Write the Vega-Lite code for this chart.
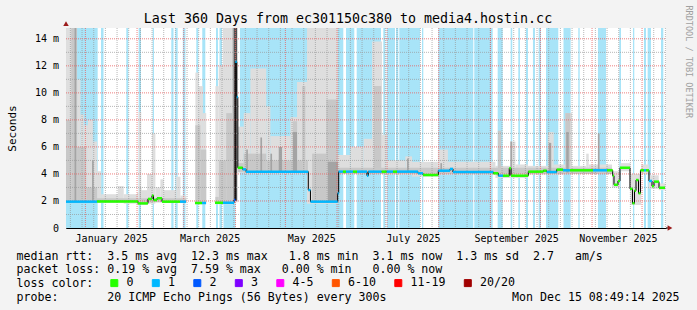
{
  "$schema": "https://vega.github.io/schema/vega-lite/v6.json",
  "width": 600,
  "height": 200,
  "autosize": "none",
  "padding": {"left": 66, "top": 28, "right": 31, "bottom": 82},
  "background": "#f3f3f3",
  "title": {"text": "Last 360 Days from ec301150c380 to media4.hostin.cc", "font": "DejaVu Sans Mono", "fontSize": 13.3, "fontWeight": "normal", "color": "#000000", "anchor": "middle", "frame": "group", "dx": -18, "offset": -31.5, "baseline": "alphabetic"},
  "datasets": {
    "bands": [
      {"t0": "2024-12-20T08:49", "t1": "2025-01-08T09:00"},
      {"t0": "2025-01-10T09:00", "t1": "2025-01-11T21:00"},
      {"t0": "2025-01-25T13:00", "t1": "2025-01-26T18:00"},
      {"t0": "2025-02-01T23:00", "t1": "2025-02-03T09:00"},
      {"t0": "2025-02-10T09:00", "t1": "2025-02-11T04:00"},
      {"t0": "2025-02-21T13:00", "t1": "2025-02-22T21:00"},
      {"t0": "2025-02-23T23:00", "t1": "2025-02-25T09:00"},
      {"t0": "2025-02-28T11:00", "t1": "2025-03-02T01:00"},
      {"t0": "2025-03-08T13:00", "t1": "2025-03-09T18:00"},
      {"t0": "2025-03-12T03:00", "t1": "2025-03-13T23:00"},
      {"t0": "2025-03-20T09:00", "t1": "2025-03-21T13:00"},
      {"t0": "2025-03-22T11:00", "t1": "2025-03-23T23:00"},
      {"t0": "2025-03-24T21:00", "t1": "2025-04-01T01:00"},
      {"t0": "2025-04-03T18:00", "t1": "2025-06-04T18:00"},
      {"t0": "2025-06-06T09:00", "t1": "2025-06-11T08:00"},
      {"t0": "2025-06-12T19:00", "t1": "2025-06-27T09:00"},
      {"t0": "2025-06-28T18:00", "t1": "2025-06-29T23:00"},
      {"t0": "2025-06-30T19:00", "t1": "2025-07-05T18:00"},
      {"t0": "2025-07-06T09:00", "t1": "2025-07-07T18:00"},
      {"t0": "2025-07-08T08:00", "t1": "2025-07-20T18:00"},
      {"t0": "2025-07-21T23:00", "t1": "2025-07-22T18:00"},
      {"t0": "2025-07-31T18:00", "t1": "2025-08-21T18:00"},
      {"t0": "2025-08-22T08:00", "t1": "2025-09-02T09:00"},
      {"t0": "2025-09-05T09:00", "t1": "2025-09-08T09:00"},
      {"t0": "2025-09-13T04:00", "t1": "2025-09-14T03:00"},
      {"t0": "2025-09-17T18:00", "t1": "2025-09-18T18:00"},
      {"t0": "2025-09-22T09:00", "t1": "2025-09-23T13:00"},
      {"t0": "2025-09-26T13:00", "t1": "2025-09-27T18:00"},
      {"t0": "2025-09-29T23:00", "t1": "2025-10-01T09:00"},
      {"t0": "2025-10-04T09:00", "t1": "2025-10-11T18:00"},
      {"t0": "2025-10-14T21:00", "t1": "2025-10-19T04:00"},
      {"t0": "2025-10-23T18:00", "t1": "2025-10-24T14:00"},
      {"t0": "2025-11-04T13:00", "t1": "2025-11-09T09:00"},
      {"t0": "2025-11-17T08:00", "t1": "2025-11-18T09:00"},
      {"t0": "2025-11-25T13:00", "t1": "2025-11-26T08:00"},
      {"t0": "2025-12-02T04:00", "t1": "2025-12-03T09:00"},
      {"t0": "2025-12-04T09:00", "t1": "2025-12-06T09:00"},
      {"t0": "2025-12-12T09:00", "t1": "2025-12-13T18:00"}
    ],
    "smoke": [
      {"t0": "2024-12-20T08:49", "t1": "2024-12-27T00:00", "lo": 1.85, "hi": 14.8, "b": "l"},
      {"t0": "2024-12-27T00:00", "t1": "2024-12-29T00:00", "lo": 1.85, "hi": 11.0, "b": "l"},
      {"t0": "2024-12-29T00:00", "t1": "2024-12-31T00:00", "lo": 1.85, "hi": 8.4, "b": "l"},
      {"t0": "2024-12-31T00:00", "t1": "2025-01-02T12:00", "lo": 1.85, "hi": 7.6, "b": "l"},
      {"t0": "2025-01-02T12:00", "t1": "2025-01-05T12:00", "lo": 1.85, "hi": 8.0, "b": "l"},
      {"t0": "2025-01-05T12:00", "t1": "2025-01-08T00:00", "lo": 1.85, "hi": 6.4, "b": "l"},
      {"t0": "2025-01-08T00:00", "t1": "2025-01-10T12:00", "lo": 1.85, "hi": 4.2, "b": "l"},
      {"t0": "2025-01-10T12:00", "t1": "2025-01-20T12:00", "lo": 1.85, "hi": 2.5, "b": "l"},
      {"t0": "2025-01-20T12:00", "t1": "2025-01-24T00:00", "lo": 1.85, "hi": 3.1, "b": "l"},
      {"t0": "2025-01-24T00:00", "t1": "2025-02-01T00:00", "lo": 1.8, "hi": 2.5, "b": "l"},
      {"t0": "2025-02-01T00:00", "t1": "2025-02-02T00:00", "lo": 1.7, "hi": 2.6, "b": "l"},
      {"t0": "2025-02-02T00:00", "t1": "2025-02-03T12:00", "lo": 1.7, "hi": 8.6, "b": "l"},
      {"t0": "2025-02-03T12:00", "t1": "2025-02-07T00:00", "lo": 1.7, "hi": 2.8, "b": "l"},
      {"t0": "2025-02-07T00:00", "t1": "2025-02-10T00:00", "lo": 1.8, "hi": 4.0, "b": "l"},
      {"t0": "2025-02-10T00:00", "t1": "2025-02-12T00:00", "lo": 1.8, "hi": 7.0, "b": "l"},
      {"t0": "2025-02-12T00:00", "t1": "2025-02-15T00:00", "lo": 1.9, "hi": 3.0, "b": "l"},
      {"t0": "2025-02-15T00:00", "t1": "2025-02-17T00:00", "lo": 1.9, "hi": 3.6, "b": "l"},
      {"t0": "2025-02-17T00:00", "t1": "2025-02-24T12:00", "lo": 1.85, "hi": 2.8, "b": "l"},
      {"t0": "2025-02-24T12:00", "t1": "2025-02-27T00:00", "lo": 1.85, "hi": 3.8, "b": "l"},
      {"t0": "2025-02-27T00:00", "t1": "2025-03-02T12:00", "lo": 1.85, "hi": 2.4, "b": "l"},
      {"t0": "2025-03-08T00:00", "t1": "2025-03-10T00:00", "lo": 1.75, "hi": 11.5, "b": "l"},
      {"t0": "2025-03-10T00:00", "t1": "2025-03-12T12:00", "lo": 1.75, "hi": 10.5, "b": "l"},
      {"t0": "2025-03-12T12:00", "t1": "2025-03-14T12:00", "lo": 1.75, "hi": 8.5, "b": "l"},
      {"t0": "2025-03-20T00:00", "t1": "2025-03-22T00:00", "lo": 1.75, "hi": 10.5, "b": "l"},
      {"t0": "2025-03-22T00:00", "t1": "2025-03-24T12:00", "lo": 1.75, "hi": 12.0, "b": "l"},
      {"t0": "2025-03-24T12:00", "t1": "2025-03-31T00:00", "lo": 1.75, "hi": 14.8, "b": "l"},
      {"t0": "2025-03-31T00:00", "t1": "2025-04-02T12:00", "lo": 1.9, "hi": 14.8, "b": "l"},
      {"t0": "2025-04-02T12:00", "t1": "2025-04-06T00:00", "lo": 4.1, "hi": 7.5, "b": "l"},
      {"t0": "2025-04-06T00:00", "t1": "2025-04-10T00:00", "lo": 4.05, "hi": 8.5, "b": "l"},
      {"t0": "2025-04-10T00:00", "t1": "2025-04-19T12:00", "lo": 4.05, "hi": 11.8, "b": "l"},
      {"t0": "2025-04-19T12:00", "t1": "2025-04-22T00:00", "lo": 4.05, "hi": 9.0, "b": "l"},
      {"t0": "2025-04-22T00:00", "t1": "2025-05-04T00:00", "lo": 4.05, "hi": 6.8, "b": "l"},
      {"t0": "2025-05-04T00:00", "t1": "2025-05-08T00:00", "lo": 4.05, "hi": 8.2, "b": "l"},
      {"t0": "2025-05-08T00:00", "t1": "2025-05-14T00:00", "lo": 4.05, "hi": 10.8, "b": "l"},
      {"t0": "2025-05-14T00:00", "t1": "2025-06-01T12:00", "lo": 1.8, "hi": 14.8, "b": "l"},
      {"t0": "2025-06-01T12:00", "t1": "2025-06-09T00:00", "lo": 4.0, "hi": 5.4, "b": "l"},
      {"t0": "2025-06-09T00:00", "t1": "2025-06-17T00:00", "lo": 4.0, "hi": 6.0, "b": "l"},
      {"t0": "2025-06-17T00:00", "t1": "2025-06-22T00:00", "lo": 4.0, "hi": 6.6, "b": "l"},
      {"t0": "2025-06-22T00:00", "t1": "2025-06-28T00:00", "lo": 4.0, "hi": 13.8, "b": "l"},
      {"t0": "2025-06-28T00:00", "t1": "2025-07-01T00:00", "lo": 4.0, "hi": 6.9, "b": "l"},
      {"t0": "2025-07-01T00:00", "t1": "2025-07-12T00:00", "lo": 3.95, "hi": 5.0, "b": "l"},
      {"t0": "2025-07-12T00:00", "t1": "2025-07-16T00:00", "lo": 3.95, "hi": 5.3, "b": "l"},
      {"t0": "2025-07-16T00:00", "t1": "2025-07-31T12:00", "lo": 3.8, "hi": 4.9, "b": "l"},
      {"t0": "2025-07-31T12:00", "t1": "2025-08-06T12:00", "lo": 3.95, "hi": 5.8, "b": "l"},
      {"t0": "2025-08-06T12:00", "t1": "2025-09-04T00:00", "lo": 3.95, "hi": 4.9, "b": "l"},
      {"t0": "2025-09-04T00:00", "t1": "2025-09-13T00:00", "lo": 3.7, "hi": 4.6, "b": "l"},
      {"t0": "2025-09-13T00:00", "t1": "2025-09-16T00:00", "lo": 3.7, "hi": 6.4, "b": "l"},
      {"t0": "2025-09-16T00:00", "t1": "2025-09-23T12:00", "lo": 3.7, "hi": 4.7, "b": "l"},
      {"t0": "2025-09-23T12:00", "t1": "2025-10-05T12:00", "lo": 3.95, "hi": 4.6, "b": "l"},
      {"t0": "2025-10-05T12:00", "t1": "2025-10-09T00:00", "lo": 3.95, "hi": 7.1, "b": "l"},
      {"t0": "2025-10-09T00:00", "t1": "2025-10-16T00:00", "lo": 3.95, "hi": 4.7, "b": "l"},
      {"t0": "2025-10-16T00:00", "t1": "2025-10-20T00:00", "lo": 4.0, "hi": 8.5, "b": "l"},
      {"t0": "2025-10-20T00:00", "t1": "2025-10-28T12:00", "lo": 4.05, "hi": 4.6, "b": "l"},
      {"t0": "2025-10-28T12:00", "t1": "2025-10-30T00:00", "lo": 4.05, "hi": 5.5, "b": "l"},
      {"t0": "2025-10-30T00:00", "t1": "2025-11-13T00:00", "lo": 4.05, "hi": 4.7, "b": "l"},
      {"t0": "2025-11-13T00:00", "t1": "2025-11-18T00:00", "lo": 3.0, "hi": 4.2, "b": "l"},
      {"t0": "2025-11-18T00:00", "t1": "2025-11-24T00:00", "lo": 4.2, "hi": 4.8, "b": "l"},
      {"t0": "2025-11-24T00:00", "t1": "2025-11-30T12:00", "lo": 1.7, "hi": 4.0, "b": "l"},
      {"t0": "2025-11-30T12:00", "t1": "2025-12-05T00:00", "lo": 4.0, "hi": 4.7, "b": "l"},
      {"t0": "2025-12-05T00:00", "t1": "2025-12-11T00:00", "lo": 2.9, "hi": 3.9, "b": "l"},
      {"t0": "2025-12-11T00:00", "t1": "2025-12-15T00:00", "lo": 2.8, "hi": 3.3, "b": "l"},
      {"t0": "2024-12-20T08:49", "t1": "2024-12-23T12:00", "lo": 1.9, "hi": 8.0, "b": "m"},
      {"t0": "2024-12-23T12:00", "t1": "2024-12-27T00:00", "lo": 1.9, "hi": 14.8, "b": "m"},
      {"t0": "2024-12-27T00:00", "t1": "2025-01-01T12:00", "lo": 1.9, "hi": 6.0, "b": "m"},
      {"t0": "2025-01-01T12:00", "t1": "2025-01-08T00:00", "lo": 1.9, "hi": 3.0, "b": "m"},
      {"t0": "2025-01-08T00:00", "t1": "2025-03-02T12:00", "lo": 1.9, "hi": 2.2, "b": "m"},
      {"t0": "2025-02-02T12:00", "t1": "2025-02-03T12:00", "lo": 1.8, "hi": 3.0, "b": "m"},
      {"t0": "2025-03-08T00:00", "t1": "2025-03-11T00:00", "lo": 1.8, "hi": 7.6, "b": "m"},
      {"t0": "2025-03-11T00:00", "t1": "2025-03-14T12:00", "lo": 1.8, "hi": 5.8, "b": "m"},
      {"t0": "2025-03-20T00:00", "t1": "2025-03-22T00:00", "lo": 1.8, "hi": 2.3, "b": "m"},
      {"t0": "2025-03-22T00:00", "t1": "2025-03-26T12:00", "lo": 1.8, "hi": 5.0, "b": "m"},
      {"t0": "2025-03-26T12:00", "t1": "2025-03-30T00:00", "lo": 1.8, "hi": 8.5, "b": "m"},
      {"t0": "2025-03-30T00:00", "t1": "2025-04-01T12:00", "lo": 2.0, "hi": 14.8, "b": "m"},
      {"t0": "2025-04-02T12:00", "t1": "2025-04-06T00:00", "lo": 4.15, "hi": 4.8, "b": "m"},
      {"t0": "2025-04-06T00:00", "t1": "2025-04-19T12:00", "lo": 4.1, "hi": 5.5, "b": "m"},
      {"t0": "2025-04-19T12:00", "t1": "2025-05-05T12:00", "lo": 4.1, "hi": 5.0, "b": "m"},
      {"t0": "2025-05-05T12:00", "t1": "2025-05-08T00:00", "lo": 4.1, "hi": 7.9, "b": "m"},
      {"t0": "2025-05-08T00:00", "t1": "2025-05-11T00:00", "lo": 4.1, "hi": 5.0, "b": "m"},
      {"t0": "2025-05-11T00:00", "t1": "2025-05-13T00:00", "lo": 4.1, "hi": 10.5, "b": "m"},
      {"t0": "2025-05-13T00:00", "t1": "2025-05-14T12:00", "lo": 4.1, "hi": 5.0, "b": "m"},
      {"t0": "2025-05-17T00:00", "t1": "2025-05-25T12:00", "lo": 1.9, "hi": 5.5, "b": "m"},
      {"t0": "2025-05-25T12:00", "t1": "2025-06-01T12:00", "lo": 1.9, "hi": 9.5, "b": "m"},
      {"t0": "2025-06-01T12:00", "t1": "2025-11-13T00:00", "lo": 4.0, "hi": 4.45, "b": "m"},
      {"t0": "2025-06-23T00:00", "t1": "2025-06-27T12:00", "lo": 4.05, "hi": 10.5, "b": "m"},
      {"t0": "2025-09-05T12:00", "t1": "2025-09-07T12:00", "lo": 3.8, "hi": 7.2, "b": "m"},
      {"t0": "2025-10-16T00:00", "t1": "2025-10-19T00:00", "lo": 4.1, "hi": 8.5, "b": "m"},
      {"t0": "2024-12-25T12:00", "t1": "2024-12-26T12:00", "lo": 1.95, "hi": 14.8, "b": "d"},
      {"t0": "2025-01-05T00:00", "t1": "2025-01-06T00:00", "lo": 1.95, "hi": 5.0, "b": "d"},
      {"t0": "2025-04-07T12:00", "t1": "2025-04-08T12:00", "lo": 4.2, "hi": 5.8, "b": "d"},
      {"t0": "2025-04-16T00:00", "t1": "2025-04-17T00:00", "lo": 4.2, "hi": 6.7, "b": "d"},
      {"t0": "2025-04-22T00:00", "t1": "2025-04-23T00:00", "lo": 4.2, "hi": 5.5, "b": "d"},
      {"t0": "2025-04-27T00:00", "t1": "2025-04-29T00:00", "lo": 4.2, "hi": 6.0, "b": "d"},
      {"t0": "2025-05-05T12:00", "t1": "2025-05-08T00:00", "lo": 4.2, "hi": 7.1, "b": "d"},
      {"t0": "2025-05-26T12:00", "t1": "2025-06-01T12:00", "lo": 1.95, "hi": 4.9, "b": "d"},
      {"t0": "2025-07-13T00:00", "t1": "2025-07-14T00:00", "lo": 4.2, "hi": 5.15, "b": "d"},
      {"t0": "2025-08-02T00:00", "t1": "2025-08-03T00:00", "lo": 4.2, "hi": 4.8, "b": "d"},
      {"t0": "2025-09-13T00:00", "t1": "2025-09-14T00:00", "lo": 3.9, "hi": 6.4, "b": "d"},
      {"t0": "2025-10-06T00:00", "t1": "2025-10-07T12:00", "lo": 4.1, "hi": 6.3, "b": "d"},
      {"t0": "2025-10-16T12:00", "t1": "2025-10-18T00:00", "lo": 4.1, "hi": 7.1, "b": "d"},
      {"t0": "2025-11-04T12:00", "t1": "2025-11-05T12:00", "lo": 4.25, "hi": 7.0, "b": "d"},
      {"t0": "2025-03-31T00:00", "t1": "2025-04-02T00:00", "lo": 2.0, "hi": 14.8, "b": "x"}
    ],
    "weeks": [
      {"t": "2024-12-23T00:00"}, {"t": "2024-12-30T00:00"}, {"t": "2025-01-06T00:00"}, {"t": "2025-01-13T00:00"},
      {"t": "2025-01-20T00:00"}, {"t": "2025-01-27T00:00"}, {"t": "2025-02-03T00:00"}, {"t": "2025-02-10T00:00"},
      {"t": "2025-02-17T00:00"}, {"t": "2025-02-24T00:00"}, {"t": "2025-03-03T00:00"}, {"t": "2025-03-10T00:00"},
      {"t": "2025-03-17T00:00"}, {"t": "2025-03-24T00:00"}, {"t": "2025-03-31T00:00"}, {"t": "2025-04-07T00:00"},
      {"t": "2025-04-14T00:00"}, {"t": "2025-04-21T00:00"}, {"t": "2025-04-28T00:00"}, {"t": "2025-05-05T00:00"},
      {"t": "2025-05-12T00:00"}, {"t": "2025-05-19T00:00"}, {"t": "2025-05-26T00:00"}, {"t": "2025-06-02T00:00"},
      {"t": "2025-06-09T00:00"}, {"t": "2025-06-16T00:00"}, {"t": "2025-06-23T00:00"}, {"t": "2025-06-30T00:00"},
      {"t": "2025-07-07T00:00"}, {"t": "2025-07-14T00:00"}, {"t": "2025-07-21T00:00"}, {"t": "2025-07-28T00:00"},
      {"t": "2025-08-04T00:00"}, {"t": "2025-08-11T00:00"}, {"t": "2025-08-18T00:00"}, {"t": "2025-08-25T00:00"},
      {"t": "2025-09-01T00:00"}, {"t": "2025-09-08T00:00"}, {"t": "2025-09-15T00:00"}, {"t": "2025-09-22T00:00"},
      {"t": "2025-09-29T00:00"}, {"t": "2025-10-06T00:00"}, {"t": "2025-10-13T00:00"}, {"t": "2025-10-20T00:00"},
      {"t": "2025-10-27T00:00"}, {"t": "2025-11-03T00:00"}, {"t": "2025-11-10T00:00"}, {"t": "2025-11-17T00:00"},
      {"t": "2025-11-24T00:00"}, {"t": "2025-12-08T00:00"}, {"t": "2025-12-15T00:00"}
    ],
    "months": [
      {"t": "2025-01-01T00:00"}, {"t": "2025-02-01T00:00"}, {"t": "2025-03-01T00:00"}, {"t": "2025-04-01T00:00"},
      {"t": "2025-05-01T00:00"}, {"t": "2025-06-01T00:00"}, {"t": "2025-07-01T00:00"}, {"t": "2025-08-01T00:00"},
      {"t": "2025-09-01T00:00"}, {"t": "2025-10-01T00:00"}, {"t": "2025-11-01T00:00"}, {"t": "2025-12-01T00:00"}
    ],
    "hminor": [{"v": 1}, {"v": 3}, {"v": 5}, {"v": 7}, {"v": 9}, {"v": 11}, {"v": 13}],
    "hmajor": [{"v": 2}, {"v": 4}, {"v": 6}, {"v": 8}, {"v": 10}, {"v": 12}, {"v": 14}],
    "median": [
      {"t0": "2024-12-20T08:49", "t1": "2025-01-07T23:00", "m": 1.95, "loss": "1", "run": 1},
      {"t0": "2025-01-07T23:00", "t1": "2025-02-01T13:00", "m": 1.97, "loss": "0", "run": 1},
      {"t0": "2025-02-01T13:00", "t1": "2025-02-07T13:00", "m": 1.82, "loss": "0", "run": 1},
      {"t0": "2025-02-07T13:00", "t1": "2025-02-09T23:00", "m": 2.15, "loss": "0", "run": 1},
      {"t0": "2025-02-09T23:00", "t1": "2025-02-10T21:00", "m": 2.4, "loss": "0", "run": 1},
      {"t0": "2025-02-10T21:00", "t1": "2025-02-12T23:00", "m": 2.07, "loss": "0", "run": 1},
      {"t0": "2025-02-12T23:00", "t1": "2025-02-15T23:00", "m": 2.2, "loss": "0", "run": 1},
      {"t0": "2025-02-15T23:00", "t1": "2025-02-26T18:00", "m": 1.95, "loss": "0", "run": 1},
      {"t0": "2025-02-26T18:00", "t1": "2025-03-02T09:00", "m": 1.95, "loss": "1", "run": 1},
      {"t0": "2025-03-02T09:00", "t1": "2025-03-02T09:00", "m": 1.95, "loss": "1", "run": 1},
      {"t0": "2025-03-07T18:00", "t1": "2025-03-11T23:00", "m": 1.85, "loss": "0", "run": 2},
      {"t0": "2025-03-11T23:00", "t1": "2025-03-14T09:00", "m": 1.85, "loss": "1", "run": 2},
      {"t0": "2025-03-14T09:00", "t1": "2025-03-14T09:00", "m": 1.85, "loss": "1", "run": 2},
      {"t0": "2025-03-19T18:00", "t1": "2025-03-24T13:00", "m": 1.87, "loss": "0", "run": 3},
      {"t0": "2025-03-24T13:00", "t1": "2025-03-31T04:00", "m": 1.87, "loss": "1", "run": 3},
      {"t0": "2025-03-31T04:00", "t1": "2025-03-31T23:00", "m": 2.07, "loss": "2", "run": 3},
      {"t0": "2025-03-31T23:00", "t1": "2025-04-01T20:00", "m": 12.3, "loss": "1", "run": 3},
      {"t0": "2025-04-01T20:00", "t1": "2025-04-02T11:00", "m": 9.7, "loss": "1", "run": 3},
      {"t0": "2025-04-02T11:00", "t1": "2025-04-05T09:00", "m": 4.46, "loss": "0", "run": 3},
      {"t0": "2025-04-05T09:00", "t1": "2025-04-07T09:00", "m": 4.34, "loss": "1", "run": 3},
      {"t0": "2025-04-07T09:00", "t1": "2025-05-14T18:00", "m": 4.17, "loss": "1", "run": 3},
      {"t0": "2025-05-14T18:00", "t1": "2025-05-16T01:00", "m": 2.81, "loss": "1", "run": 3},
      {"t0": "2025-05-16T01:00", "t1": "2025-06-01T09:00", "m": 1.95, "loss": "1", "run": 3},
      {"t0": "2025-06-01T09:00", "t1": "2025-06-01T23:30", "m": 2.57, "loss": "1", "run": 3},
      {"t0": "2025-06-01T23:30", "t1": "2025-06-04T13:00", "m": 4.17, "loss": "1", "run": 3},
      {"t0": "2025-06-04T13:00", "t1": "2025-06-06T09:00", "m": 4.17, "loss": "0", "run": 3},
      {"t0": "2025-06-06T09:00", "t1": "2025-06-10T13:00", "m": 4.17, "loss": "1", "run": 3},
      {"t0": "2025-06-10T13:00", "t1": "2025-06-12T23:00", "m": 4.17, "loss": "0", "run": 3},
      {"t0": "2025-06-12T23:00", "t1": "2025-06-18T23:00", "m": 4.17, "loss": "1", "run": 3},
      {"t0": "2025-06-18T23:00", "t1": "2025-06-19T18:00", "m": 3.87, "loss": "1", "run": 3},
      {"t0": "2025-06-19T18:00", "t1": "2025-06-27T19:00", "m": 4.17, "loss": "1", "run": 3},
      {"t0": "2025-06-27T19:00", "t1": "2025-06-30T19:00", "m": 4.17, "loss": "0", "run": 3},
      {"t0": "2025-06-30T19:00", "t1": "2025-07-04T13:00", "m": 4.17, "loss": "1", "run": 3},
      {"t0": "2025-07-04T13:00", "t1": "2025-07-06T23:00", "m": 4.17, "loss": "0", "run": 3},
      {"t0": "2025-07-06T23:00", "t1": "2025-07-19T13:00", "m": 4.17, "loss": "1", "run": 3},
      {"t0": "2025-07-19T13:00", "t1": "2025-07-22T13:00", "m": 4.05, "loss": "1", "run": 3},
      {"t0": "2025-07-22T13:00", "t1": "2025-07-31T18:00", "m": 3.92, "loss": "0", "run": 3},
      {"t0": "2025-07-31T18:00", "t1": "2025-08-07T18:00", "m": 4.24, "loss": "1", "run": 3},
      {"t0": "2025-08-07T18:00", "t1": "2025-08-09T13:00", "m": 4.37, "loss": "1", "run": 3},
      {"t0": "2025-08-09T13:00", "t1": "2025-09-02T18:00", "m": 4.14, "loss": "1", "run": 3},
      {"t0": "2025-09-02T18:00", "t1": "2025-09-05T18:00", "m": 4.05, "loss": "0", "run": 3},
      {"t0": "2025-09-05T18:00", "t1": "2025-09-08T13:00", "m": 3.87, "loss": "1", "run": 3},
      {"t0": "2025-09-08T13:00", "t1": "2025-09-12T08:00", "m": 3.87, "loss": "0", "run": 3},
      {"t0": "2025-09-12T08:00", "t1": "2025-09-13T09:00", "m": 4.42, "loss": "0", "run": 3},
      {"t0": "2025-09-13T09:00", "t1": "2025-09-23T18:00", "m": 3.87, "loss": "0", "run": 3},
      {"t0": "2025-09-23T18:00", "t1": "2025-10-02T18:00", "m": 4.17, "loss": "0", "run": 3},
      {"t0": "2025-10-02T18:00", "t1": "2025-10-04T19:00", "m": 4.24, "loss": "0", "run": 3},
      {"t0": "2025-10-04T19:00", "t1": "2025-10-10T19:00", "m": 4.14, "loss": "1", "run": 3},
      {"t0": "2025-10-10T19:00", "t1": "2025-10-14T13:00", "m": 4.32, "loss": "0", "run": 3},
      {"t0": "2025-10-14T13:00", "t1": "2025-10-18T18:00", "m": 4.27, "loss": "1", "run": 3},
      {"t0": "2025-10-18T18:00", "t1": "2025-11-01T13:00", "m": 4.27, "loss": "0", "run": 3},
      {"t0": "2025-11-01T13:00", "t1": "2025-11-09T23:00", "m": 4.27, "loss": "1", "run": 3},
      {"t0": "2025-11-09T23:00", "t1": "2025-11-13T09:00", "m": 4.27, "loss": "0", "run": 3},
      {"t0": "2025-11-13T09:00", "t1": "2025-11-14T04:00", "m": 3.87, "loss": "0", "run": 3},
      {"t0": "2025-11-14T04:00", "t1": "2025-11-16T13:00", "m": 3.2, "loss": "0", "run": 3},
      {"t0": "2025-11-16T13:00", "t1": "2025-11-17T18:00", "m": 3.48, "loss": "0", "run": 3},
      {"t0": "2025-11-17T18:00", "t1": "2025-11-23T18:00", "m": 4.46, "loss": "0", "run": 3},
      {"t0": "2025-11-23T18:00", "t1": "2025-11-25T06:00", "m": 2.9, "loss": "0", "run": 3},
      {"t0": "2025-11-25T06:00", "t1": "2025-11-26T11:00", "m": 1.83, "loss": "0", "run": 3},
      {"t0": "2025-11-26T11:00", "t1": "2025-11-27T09:00", "m": 2.76, "loss": "0", "run": 3},
      {"t0": "2025-11-27T09:00", "t1": "2025-11-28T21:00", "m": 3.55, "loss": "0", "run": 3},
      {"t0": "2025-11-28T21:00", "t1": "2025-11-30T01:00", "m": 2.57, "loss": "0", "run": 3},
      {"t0": "2025-11-30T01:00", "t1": "2025-12-02T04:00", "m": 4.27, "loss": "0", "run": 3},
      {"t0": "2025-12-02T04:00", "t1": "2025-12-03T09:00", "m": 4.27, "loss": "1", "run": 3},
      {"t0": "2025-12-03T09:00", "t1": "2025-12-05T04:00", "m": 4.27, "loss": "0", "run": 3},
      {"t0": "2025-12-05T04:00", "t1": "2025-12-06T23:00", "m": 3.48, "loss": "1", "run": 3},
      {"t0": "2025-12-06T23:00", "t1": "2025-12-08T04:00", "m": 3.1, "loss": "0", "run": 3},
      {"t0": "2025-12-08T04:00", "t1": "2025-12-11T04:00", "m": 3.43, "loss": "0", "run": 3},
      {"t0": "2025-12-11T04:00", "t1": "2025-12-14T18:00", "m": 2.98, "loss": "0", "run": 3},
      {"t0": "2025-12-14T18:00", "t1": "2025-12-14T18:00", "m": 2.98, "loss": "0", "run": 3}
    ]
  },
  "layer": [
    {
      "layer": [
        {
          "data": {"name": "bands"},
          "mark": {"type": "rect", "color": "#a8e4f8", "strokeWidth": 0},
          "encoding": {
            "x": {"field": "t0", "type": "temporal",
              "scale": {"domain": [{"year": 2024, "month": 12, "date": 20, "hours": 8, "minutes": 49}, {"year": 2025, "month": 12, "date": 15, "hours": 8, "minutes": 49}], "nice": false},
              "axis": {
                "values": [{"year": 2025, "month": 1, "date": 16, "hours": 12}, {"year": 2025, "month": 3, "date": 16, "hours": 12}, {"year": 2025, "month": 5, "date": 16, "hours": 12}, {"year": 2025, "month": 7, "date": 16, "hours": 12}, {"year": 2025, "month": 9, "date": 16, "hours": 12}, {"year": 2025, "month": 11, "date": 16, "hours": 12}],
                "labelExpr": "timeFormat(datum.value, '%B %Y')",
                "labelPadding": 5, "labelOverlap": false, "labelFlush": false, "ticks": false, "tickSize": 0, "grid": false,
                "title": [
                  "median\u00a0rtt:\u00a0\u00a03.5\u00a0ms\u00a0avg\u00a0\u00a012.3\u00a0ms\u00a0max\u00a0\u00a0\u00a01.8\u00a0ms\u00a0min\u00a0\u00a03.1\u00a0ms\u00a0now\u00a0\u00a01.3\u00a0ms\u00a0sd\u00a0\u00a02.7\u00a0\u00a0\u00a0am/s",
                  "packet\u00a0loss:\u00a00.19\u00a0%\u00a0avg\u00a0\u00a07.59\u00a0%\u00a0max\u00a0\u00a0\u00a00.00\u00a0%\u00a0min\u00a0\u00a0\u00a00.00\u00a0%\u00a0now",
                  "loss\u00a0color:",
                  "probe:\u00a0\u00a0\u00a0\u00a0\u00a0\u00a0\u00a020\u00a0ICMP\u00a0Echo\u00a0Pings\u00a0(56\u00a0Bytes)\u00a0every\u00a0300s\u00a0\u00a0\u00a0\u00a0\u00a0\u00a0\u00a0\u00a0\u00a0\u00a0\u00a0\u00a0\u00a0\u00a0\u00a0\u00a0\u00a0\u00a0Mon\u00a0Dec\u00a015\u00a008:49:14\u00a02025"
                ],
                "titleX": -50, "titleY": 22, "titleAlign": "left", "titleAnchor": "start", "titleBaseline": "top", "titleAngle": 0,
                "titleFontSize": 11.6, "titleLineHeight": 13.8
              }
            },
            "x2": {"field": "t1"}
          }
        },
        {
          "data": {"name": "smoke"},
          "mark": {"type": "rect", "strokeWidth": 0},
          "encoding": {
            "x": {"field": "t0", "type": "temporal", "scale": {"domain": [{"year": 2024, "month": 12, "date": 20, "hours": 8, "minutes": 49}, {"year": 2025, "month": 12, "date": 15, "hours": 8, "minutes": 49}], "nice": false}},
            "x2": {"field": "t1"},
            "y": {"field": "lo", "type": "quantitative", "scale": {"domain": [0, 14.8], "nice": false, "zero": false},
              "axis": {"values": [0, 2, 4, 6, 8, 10, 12, 14], "tickCount": 8, "labelExpr": "datum.value == 0 ? '0' : datum.value + ' m'", "labelOverlap": false, "labelSeparation": 0, "labelFlush": false, "ticks": false, "tickSize": 0, "labelPadding": 7.5, "grid": false, "title": "Seconds", "titleFontSize": 11, "titleX": -54, "titleBaseline": "middle"}},
            "y2": {"field": "hi"},
            "fill": {"field": "b", "type": "nominal", "scale": {"domain": ["l", "m", "d", "x"], "range": ["#dedede", "#c8c8c8", "#a4a4a4", "#505050"]}, "legend": null}
          }
        },
        {
          "data": {"name": "weeks"},
          "mark": {"type": "rule", "color": "#999999", "strokeDash": [1, 1], "strokeWidth": 1, "opacity": 0.7},
          "encoding": {
            "x": {"field": "t", "type": "temporal", "scale": {"domain": [{"year": 2024, "month": 12, "date": 20, "hours": 8, "minutes": 49}, {"year": 2025, "month": 12, "date": 15, "hours": 8, "minutes": 49}], "nice": false}}
          }
        },
        {
          "data": {"name": "months"},
          "mark": {"type": "rule", "color": "#e86060", "strokeDash": [1, 1], "strokeWidth": 1, "opacity": 0.8},
          "encoding": {
            "x": {"field": "t", "type": "temporal", "scale": {"domain": [{"year": 2024, "month": 12, "date": 20, "hours": 8, "minutes": 49}, {"year": 2025, "month": 12, "date": 15, "hours": 8, "minutes": 49}], "nice": false}}
          }
        },
        {
          "data": {"name": "hminor"},
          "mark": {"type": "rule", "color": "#999999", "strokeDash": [1, 1], "strokeWidth": 1, "opacity": 0.7},
          "encoding": {
            "x": {"datum": {"year": 2024, "month": 12, "date": 20, "hours": 8, "minutes": 49}, "type": "temporal", "scale": {"domain": [{"year": 2024, "month": 12, "date": 20, "hours": 8, "minutes": 49}, {"year": 2025, "month": 12, "date": 15, "hours": 8, "minutes": 49}], "nice": false}},
            "x2": {"datum": {"year": 2025, "month": 12, "date": 15, "hours": 8, "minutes": 49}},
            "y": {"field": "v", "type": "quantitative", "scale": {"domain": [0, 14.8], "nice": false, "zero": false}}
          }
        }
      ]
    },
    {
      "layer": [
        {
          "data": {"name": "hmajor"},
          "mark": {"type": "rule", "color": "#e86060", "strokeDash": [1, 1], "strokeWidth": 1, "opacity": 0.8},
          "encoding": {
            "x": {"datum": {"year": 2024, "month": 12, "date": 20, "hours": 8, "minutes": 49}, "type": "temporal", "scale": {"domain": [{"year": 2024, "month": 12, "date": 20, "hours": 8, "minutes": 49}, {"year": 2025, "month": 12, "date": 15, "hours": 8, "minutes": 49}], "nice": false}},
            "x2": {"datum": {"year": 2025, "month": 12, "date": 15, "hours": 8, "minutes": 49}},
            "y": {"field": "v", "type": "quantitative", "scale": {"domain": [0, 14.8], "nice": false, "zero": false},
              "axis": {"orient": "right", "title": "RRDTOOL / TOBI OETIKER", "labels": false, "ticks": false, "domain": false, "grid": false, "titleAngle": 90, "titleX": 22.5, "titleY": -23, "titleAlign": "left", "titleBaseline": "middle", "titleFontSize": 8.5, "titleColor": "#a0a0a0"}}
          }
        },
        {
          "data": {"name": "median"},
          "mark": {"type": "line", "interpolate": "step-after", "color": "#000000", "strokeWidth": 1},
          "encoding": {
            "x": {"field": "t0", "type": "temporal", "scale": {"domain": [{"year": 2024, "month": 12, "date": 20, "hours": 8, "minutes": 49}, {"year": 2025, "month": 12, "date": 15, "hours": 8, "minutes": 49}], "nice": false}},
            "y": {"field": "m", "type": "quantitative", "scale": {"domain": [0, 14.8], "nice": false, "zero": false}},
            "detail": {"field": "run", "type": "nominal"}
          }
        },
        {
          "data": {"name": "median"},
          "mark": {"type": "rule", "strokeWidth": 2.5},
          "encoding": {
            "x": {"field": "t0", "type": "temporal", "scale": {"domain": [{"year": 2024, "month": 12, "date": 20, "hours": 8, "minutes": 49}, {"year": 2025, "month": 12, "date": 15, "hours": 8, "minutes": 49}], "nice": false}},
            "x2": {"field": "t1"},
            "y": {"field": "m", "type": "quantitative", "scale": {"domain": [0, 14.8], "nice": false, "zero": false}},
            "color": {"field": "loss", "type": "nominal",
              "scale": {"domain": ["0", "1", "2", "3", "4-5", "6-10", "11-19", "20/20"], "range": ["#26ff00", "#00b8ff", "#0059ff", "#7e00ff", "#ff00ff", "#ff5500", "#ff0000", "#a10000"]},
              "legend": {"orient": "none", "legendX": 42.5, "legendY": 249, "direction": "horizontal", "title": null, "padding": 0,
                "symbolType": "square", "symbolSize": 49, "symbolStrokeColor": "#000000", "symbolStrokeWidth": 1, "symbolOpacity": 1,
                "labelFont": "DejaVu Sans Mono", "labelFontSize": 11.6, "labelColor": "#000000", "labelOffset": 6.5, "columnPadding": 15.5,
                "encode": {"symbols": {"update": {"fill": {"scale": "color", "field": "value"}, "fillOpacity": {"value": 1}, "stroke": {"value": "#000000"}, "strokeWidth": {"value": 1}}}}}
            }
          }
        },
        {
          "data": {"values": [{}]},
          "mark": {"type": "rule", "color": "#000000", "strokeWidth": 1},
          "encoding": {
            "x": {"datum": {"year": 2025, "month": 12, "date": 15, "hours": 8, "minutes": 49}, "type": "temporal", "scale": {"domain": [{"year": 2024, "month": 12, "date": 20, "hours": 8, "minutes": 49}, {"year": 2025, "month": 12, "date": 15, "hours": 8, "minutes": 49}], "nice": false}},
            "x2": {"datum": {"year": 2025, "month": 12, "date": 17, "hours": 18}},
            "y": {"datum": 0, "type": "quantitative", "scale": {"domain": [0, 14.8], "nice": false, "zero": false}}
          }
        },
        {
          "data": {"values": [{}]},
          "mark": {"type": "point", "shape": "triangle-right", "filled": true, "size": 30, "color": "#9b1b1b", "opacity": 1},
          "encoding": {
            "x": {"datum": {"year": 2025, "month": 12, "date": 17, "hours": 18}, "type": "temporal", "scale": {"domain": [{"year": 2024, "month": 12, "date": 20, "hours": 8, "minutes": 49}, {"year": 2025, "month": 12, "date": 15, "hours": 8, "minutes": 49}], "nice": false}},
            "y": {"datum": 0, "type": "quantitative", "scale": {"domain": [0, 14.8], "nice": false, "zero": false}}
          }
        },
        {
          "data": {"values": [{}]},
          "mark": {"type": "point", "shape": "triangle-up", "filled": true, "size": 30, "color": "#9b1b1b", "opacity": 1},
          "encoding": {
            "x": {"datum": {"year": 2024, "month": 12, "date": 20, "hours": 8, "minutes": 49}, "type": "temporal", "scale": {"domain": [{"year": 2024, "month": 12, "date": 20, "hours": 8, "minutes": 49}, {"year": 2025, "month": 12, "date": 15, "hours": 8, "minutes": 49}], "nice": false}},
            "y": {"datum": 15.13, "type": "quantitative", "scale": {"domain": [0, 14.8], "nice": false, "zero": false}}
          }
        }
      ]
    }
  ],
  "resolve": {"axis": {"y": "independent"}},
  "config": {
    "font": "DejaVu Sans Mono",
    "view": {"fill": "#ffffff", "stroke": null},
    "axis": {"labelFont": "DejaVu Sans Mono", "labelFontSize": 10, "labelColor": "#000000", "titleFont": "DejaVu Sans Mono", "titleFontWeight": "normal", "titleColor": "#000000", "domainColor": "#000000", "domainWidth": 1, "ticks": false, "tickSize": 0, "grid": false},
    "axisY": {"labelOverlap": false, "labelSeparation": 0}
  }
}
